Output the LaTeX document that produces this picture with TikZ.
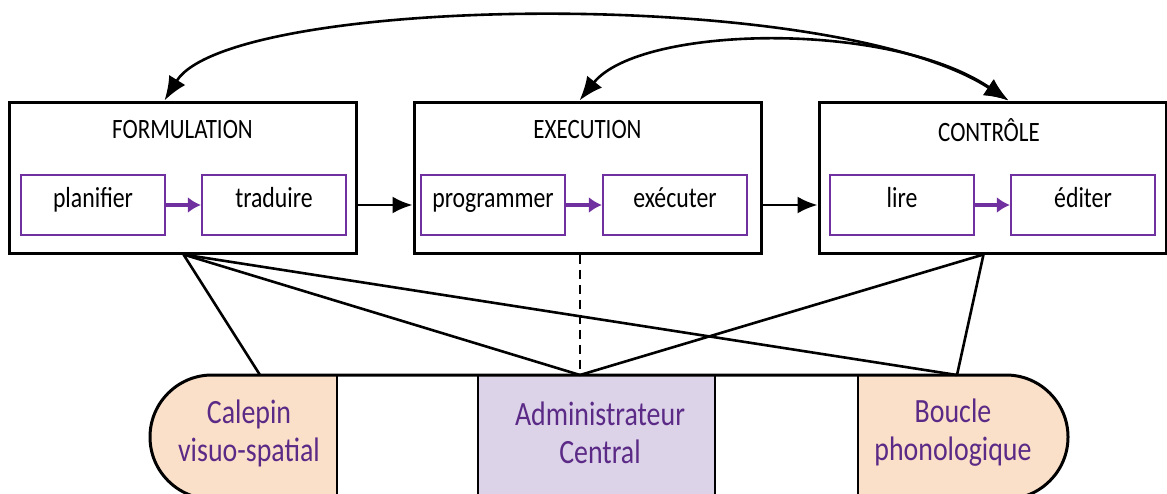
\documentclass[tikz,border=0pt]{standalone}
\usepackage{fontspec}
\setmainfont{Carlito}[FakeStretch=0.82]
\usetikzlibrary{arrows.meta}

\definecolor{violet}{HTML}{7030A0}
\definecolor{violettxt}{HTML}{5B2A86}
\definecolor{peche}{HTML}{FBE0C9}
\definecolor{lavande}{HTML}{DCD3E8}

\tikzset{
  bloc/.style={draw=black, line width=3pt, minimum width=347pt, minimum height=151pt},
  titre/.style={font=\fontsize{28}{32}\selectfont},
  tache/.style={draw=violet, line width=2.2pt, minimum width=144pt, minimum height=60pt,
    text height=0.72em, text depth=0.2em, font=\fontsize{29}{33}\selectfont},
  memoire/.style={align=center, text=violettxt, font=\fontsize{34}{38}\selectfont},
  fleche/.style={-{Latex[length=20pt,width=17pt]}, line width=2.6pt},
  retour/.style={{Latex[length=24pt,width=19pt]}-{Latex[length=24pt,width=19pt]}, line width=2.6pt},
  petite/.style={-{Latex[length=13pt,width=16pt]}, draw=violet, line width=3.5pt},
  lien/.style={line width=2.6pt},
}

\begin{document}
\begin{tikzpicture}[x=1pt, y=1pt]
        \useasboundingbox (0,0) rectangle (1167,-493);
        \clip (0,0) rectangle (1167,-493);

        % les trois processus
        \node[bloc] (form) at (182.5,-177.5) {};
        \node[bloc] (exec) at (587.5,-177.5) {};
        \node[bloc] (ctrl) at (992.5,-177.5) {};

        \node[titre] (tform) at (182.5,-130) {FORMULATION};
        \node[titre] (texec) at (587.5,-130) {EXECUTION};
        \node[titre] (tctrl) at (989,-130) {CONTRÔLE};

        \node[tache] (plan) at (93,-205) {planifier};
        \node[tache] (trad) at (274,-205) {traduire};
        \node[tache] (prog) at (493,-205) {programmer};
        \node[tache] (exe) at (675,-205) {exécuter};
        \node[tache] (lire) at (902,-205) {lire};
        \node[tache] (edit) at (1083,-205) {éditer};

        \draw[petite] (plan) -- (trad);
        \draw[petite] (prog) -- (exe);
        \draw[petite] (lire) -- (edit);

        \draw[fleche] (form.east |- trad) -- (exec.west |- trad);
        \draw[fleche] (exec.east |- exe) -- (ctrl.west |- exe);

        % retours du controle
        \draw[retour] ([xshift=-18pt]form.north) .. controls (230,5) and (830,15) .. ([xshift=16pt]ctrl.north);
        \draw[retour] ([xshift=-8pt]exec.north) .. controls (640,-25) and (890,-20) .. ([xshift=16pt]ctrl.north);

        % memoire de travail
        \fill[peche] (337,-375) -- (212,-375) arc (90:270:62) -- (337,-499) -- cycle;
        \fill[peche] (858,-375) -- (1006,-375) arc (90:-90:62) -- (858,-499) -- cycle;
        \fill[lavande] (478,-375) rectangle (715,-499);
        \draw[lien] (337,-375) -- (337,-499);
        \draw[lien] (478,-375) -- (478,-499);
        \draw[lien] (715,-375) -- (715,-499);
        \draw[lien] (858,-375) -- (858,-499);
        \draw[line width=3pt] (212,-375) -- (1006,-375) arc (90:-90:62) -- (212,-499) arc (270:90:62) -- cycle;

        \node[memoire] (cal) at (249,-433) {Calepin\\visuo-spatial};
        \node[memoire] (adm) at (600,-433) {Administrateur\\Central};
        \node[memoire] (bou) at (953,-433) {Boucle\\phonologique};

        \coordinate (pcal) at (260,-375);
        \coordinate (padm) at (580,-375);
        \coordinate (pbou) at (957,-375);

        \draw[lien] ([xshift=1pt]form.south) -- (pcal);
        \draw[lien] ([xshift=1pt]form.south) -- (padm);
        \draw[lien] ([xshift=1pt]form.south) -- (pbou);
        \draw[lien, dashed, dash pattern=on 9pt off 6pt] ([xshift=-7.5pt]exec.south) -- (padm);
        \draw[lien] ([xshift=-9pt]ctrl.south) -- (padm);
        \draw[lien] ([xshift=-9pt]ctrl.south) -- (pbou);
    \end{tikzpicture}
\end{document}
